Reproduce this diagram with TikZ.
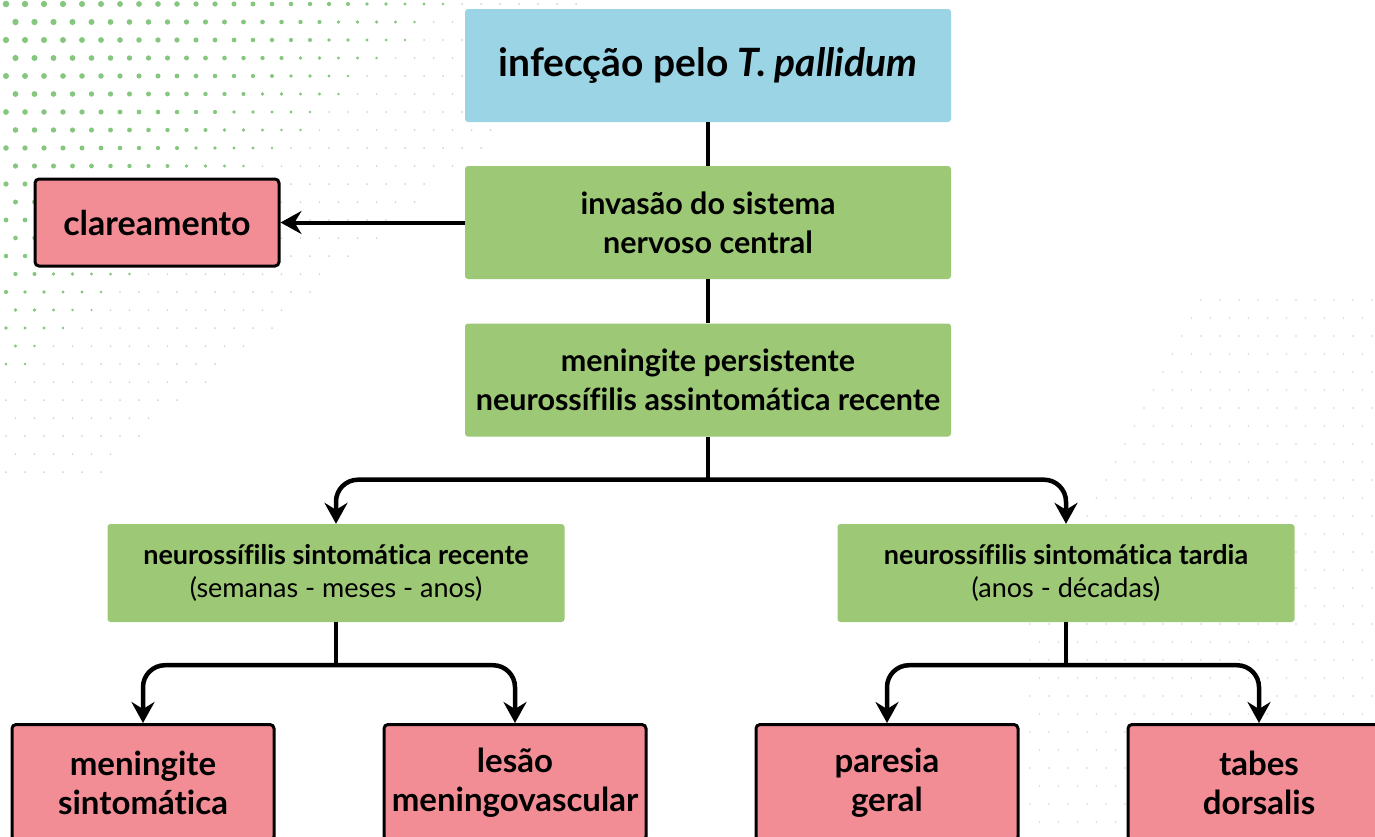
\documentclass[tikz,border=0pt]{standalone}
\usepackage{fontspec}
\setmainfont{Lato}[Ligatures={NoCommon}]
\usetikzlibrary{arrows.meta,positioning,calc}
\definecolor{cblue}{HTML}{9BD4E4}
\definecolor{cgreen}{HTML}{9DC875}
\definecolor{cpink}{HTML}{F28D95}
\definecolor{dotgreen}{HTML}{86C77F}
\definecolor{dotgrey}{HTML}{D4D4D4}
\tikzset{
  topbox/.style={fill=cblue, rounded corners=3pt, minimum width=486pt, minimum height=113pt, inner sep=0pt, align=center, font=\bfseries\fontsize{39}{46}\selectfont},
  midbox/.style={fill=cgreen, rounded corners=3pt, minimum width=486pt, minimum height=113pt, inner sep=0pt, align=center, font=\bfseries\fontsize{30.5}{39}\selectfont},
  sidebox/.style={fill=cgreen, rounded corners=3pt, minimum width=457pt, minimum height=98pt, inner sep=0pt, align=center, font=\fontsize{27}{33}\selectfont},
  pinkbox/.style={fill=cpink, draw=black, line width=3pt, rounded corners=4pt, inner sep=0pt, align=center, font=\bfseries\fontsize{33}{39}\selectfont},
  conn/.style={line width=4.5pt, draw=black},
  arr/.style={conn, -{Stealth[length=21pt,width=23pt,inset=7pt]}},
}
\begin{document}
\begin{tikzpicture}[x=1pt,y=-1pt]
\useasboundingbox (0,0) rectangle (1375,836);
\fill[white] (0,0) rectangle (1375,836);
% decorative dots top-left
\foreach \i in {0,...,30}{\foreach \j in {0,...,26}{
  \pgfmathsetmacro\px{6+\i*19+mod(\j,2)*9.5}
  \pgfmathsetmacro\py{4+\j*18}
  \pgfmathsetmacro\dd{\px/470+\py/400}
  \ifdim\dd pt<0.97pt
    \pgfmathsetmacro\rr{0.8+2.5*sqrt(1-\dd)}
    \fill[dotgreen] (\px,\py) circle (\rr pt);
  \else\ifdim\dd pt<1.4pt
    \fill[dotgrey] (\px,\py) circle (1pt);
  \fi\fi
}}
% decorative dots right
\foreach \i in {0,...,18}{\foreach \j in {0,...,29}{
  \pgfmathsetmacro\px{1030+\i*19+mod(\j,2)*9.5}
  \pgfmathsetmacro\py{300+\j*18}
  \pgfmathsetmacro\vv{(\px-1030)/345+(\py-300)/700}
  \ifdim\vv pt>0.45pt
    \fill[dotgrey!70] (\px,\py) circle (1.1pt);
  \fi
}}
% nodes
\node[topbox] (inf) at (708,65.5) {infecção pelo \textit{T. pallidum}};
\node[midbox] (inv) at (708,222.5) {invasão do sistema\\nervoso central};
\node[midbox] (men) at (708,380) {meningite persistente\\neurossífilis assintomática recente};
\node[pinkbox, minimum width=244pt, minimum height=87pt, font=\bfseries\fontsize{34}{40}\selectfont] (cla) at (157,222.5) {clareamento};
\node[sidebox] (rec) at (336,573) {\textbf{neurossífilis sintomática recente}\\(semanas - meses - anos)};
\node[sidebox] (tar) at (1066,573) {\textbf{neurossífilis sintomática tardia}\\(anos - décadas)};
\node[pinkbox, minimum width=262pt, minimum height=116pt, anchor=north] (ms) at (143,723) {meningite\\sintomática};
\node[pinkbox, minimum width=262pt, minimum height=116pt, anchor=north] (lm) at (515,723) {lesão\\meningovascular};
\node[pinkbox, minimum width=262pt, minimum height=116pt, anchor=north] (pg) at (887,723) {paresia\\geral};
\node[pinkbox, minimum width=262pt, minimum height=116pt, anchor=north] (td) at (1259,723) {tabes\\dorsalis};
% connectors
\draw[conn] (inf.south) -- (inv.north);
\draw[conn] (inv.south) -- (men.north);
\draw[arr, line width=4pt] (inv.west) -- (cla.east);
\coordinate (j1) at ($(men.south)+(0,43)$);
\draw[conn] (men.south) -- (j1);
\draw[arr, rounded corners=22pt] (j1) -| (rec.north);
\draw[arr, rounded corners=22pt] (j1) -| (tar.north);
\coordinate (j2) at ($(rec.south)+(0,43)$);
\draw[conn] (rec.south) -- (j2);
\draw[arr, rounded corners=22pt] (j2) -| (ms.north);
\draw[arr, rounded corners=22pt] (j2) -| (lm.north);
\coordinate (j3) at ($(tar.south)+(0,43)$);
\draw[conn] (tar.south) -- (j3);
\draw[arr, rounded corners=22pt] (j3) -| (pg.north);
\draw[arr, rounded corners=22pt] (j3) -| (td.north);
\end{tikzpicture}
\end{document}
